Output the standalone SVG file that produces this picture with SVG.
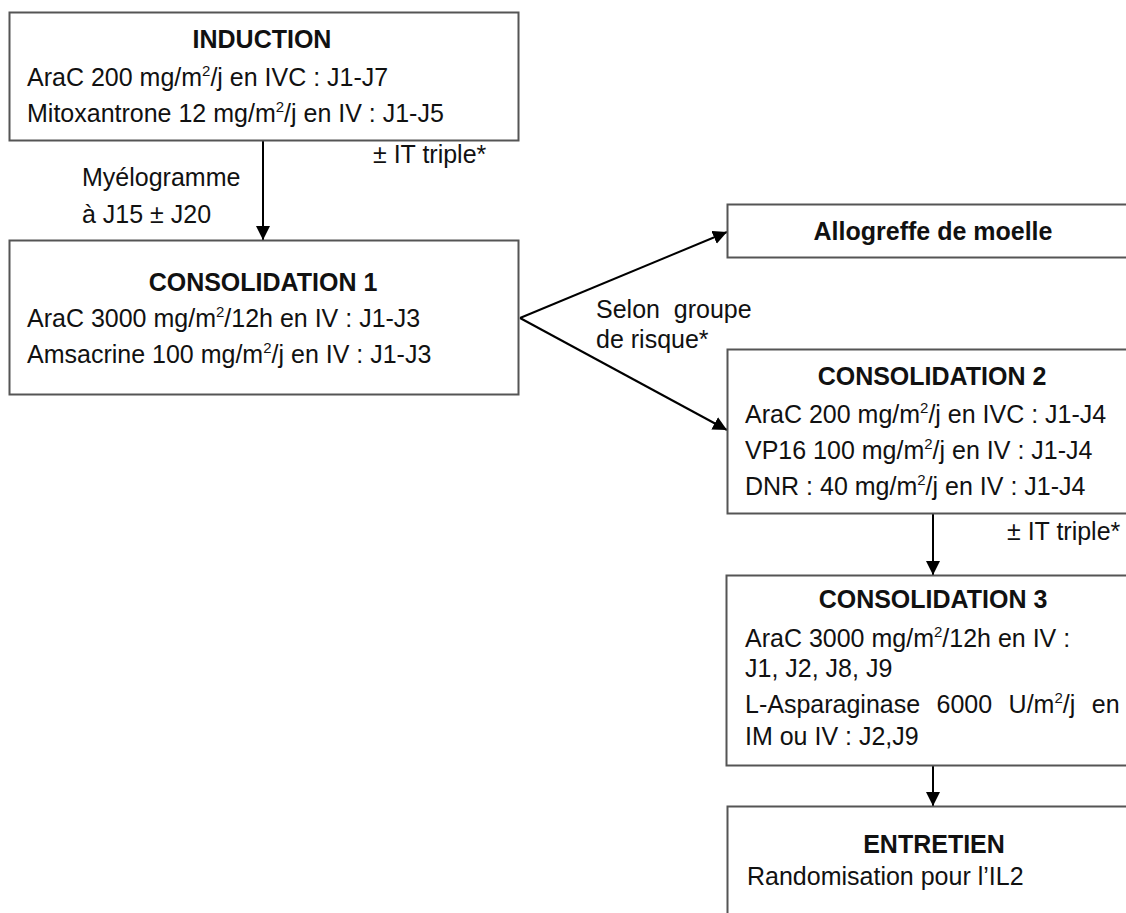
<svg xmlns="http://www.w3.org/2000/svg" width="1126" height="913" viewBox="0 0 1126 913">
<style>
  .box { fill: #fff; stroke: #555; stroke-width: 2; }
  .t { font-family: "Liberation Sans", Arial, sans-serif; font-size: 25px; fill: #111; }
  .b { font-weight: bold; text-anchor: middle; }
  .conn { stroke: #000; stroke-width: 2; fill: none; }
  .pre { white-space: pre; }
</style>
<defs>
  <marker id="ah" markerUnits="userSpaceOnUse" markerWidth="15" markerHeight="15" refX="14" refY="7" orient="auto">
    <path d="M0,0 L14,7 L0,14 z" fill="#000"/>
  </marker>
</defs>
<rect width="1126" height="913" fill="#fff"/>

<g id="connectors">
  <line class="conn" x1="263" y1="141" x2="263" y2="240" marker-end="url(#ah)"/>
  <path class="conn" d="M520,318 L727,232" marker-end="url(#ah)"/>
  <path class="conn" d="M520,318 L727,430" marker-end="url(#ah)"/>
  <line class="conn" x1="933" y1="513" x2="933" y2="575" marker-end="url(#ah)"/>
  <line class="conn" x1="933" y1="766" x2="933" y2="806" marker-end="url(#ah)"/>
  <text class="t" x="82" y="186">Myélogramme</text>
  <text class="t" x="82" y="223">à J15 ± J20</text>
  <text class="t" x="373" y="163">± IT triple*</text>
  <text class="t pre" x="596" y="318">Selon  groupe</text>
  <text class="t" x="596" y="348">de risque*</text>
  <text class="t" x="1007" y="540">± IT triple*</text>
</g>

<g id="induction">
  <rect class="box" x="9.5" y="12.5" width="509" height="128"/>
  <text class="t b" x="262" y="48">INDUCTION</text>
  <text class="t" x="27" y="86">AraC 200 mg/m<tspan dy="-10" font-size="15">2</tspan><tspan dy="10">/j en IVC : J1-J7</tspan></text>
  <text class="t" x="27" y="122">Mitoxantrone 12 mg/m<tspan dy="-10" font-size="15">2</tspan><tspan dy="10">/j en IV : J1-J5</tspan></text>
</g>

<g id="consolidation1">
  <rect class="box" x="9.5" y="240.5" width="509" height="154"/>
  <text class="t b" x="263" y="291">CONSOLIDATION 1</text>
  <text class="t" x="27" y="327">AraC 3000 mg/m<tspan dy="-10" font-size="15">2</tspan><tspan dy="10">/12h en IV : J1-J3</tspan></text>
  <text class="t" x="27" y="363">Amsacrine 100 mg/m<tspan dy="-10" font-size="15">2</tspan><tspan dy="10">/j en IV : J1-J3</tspan></text>
</g>

<g id="allogreffe">
  <rect class="box" x="727.5" y="204.5" width="420" height="53"/>
  <text class="t b" x="933" y="240">Allogreffe de moelle</text>
</g>

<g id="consolidation2">
  <rect class="box" x="727.5" y="349.5" width="420" height="164"/>
  <text class="t b" x="932" y="385">CONSOLIDATION 2</text>
  <text class="t" x="745" y="423">AraC 200 mg/m<tspan dy="-10" font-size="15">2</tspan><tspan dy="10">/j en IVC : J1-J4</tspan></text>
  <text class="t" x="745" y="459">VP16 100 mg/m<tspan dy="-10" font-size="15">2</tspan><tspan dy="10">/j en IV : J1-J4</tspan></text>
  <text class="t" x="745" y="495">DNR : 40 mg/m<tspan dy="-10" font-size="15">2</tspan><tspan dy="10">/j en IV : J1-J4</tspan></text>
</g>

<g id="consolidation3">
  <rect class="box" x="726.5" y="575.5" width="420" height="190"/>
  <text class="t b" x="933" y="608">CONSOLIDATION 3</text>
  <text class="t" x="745" y="647">AraC 3000 mg/m<tspan dy="-10" font-size="15">2</tspan><tspan dy="10">/12h en IV :</tspan></text>
  <text class="t" x="745" y="677">J1, J2, J8, J9</text>
  <text class="t" x="745" y="713" word-spacing="9.5">L-Asparaginase 6000 U/m<tspan dy="-10" font-size="15">2</tspan><tspan dy="10">/j en</tspan></text>
  <text class="t" x="745" y="745">IM ou IV : J2,J9</text>
</g>

<g id="entretien">
  <rect class="box" x="727.5" y="806.5" width="420" height="140"/>
  <text class="t b" x="934" y="853">ENTRETIEN</text>
  <text class="t" x="747" y="885">Randomisation pour l’IL2</text>
</g>
</svg>
